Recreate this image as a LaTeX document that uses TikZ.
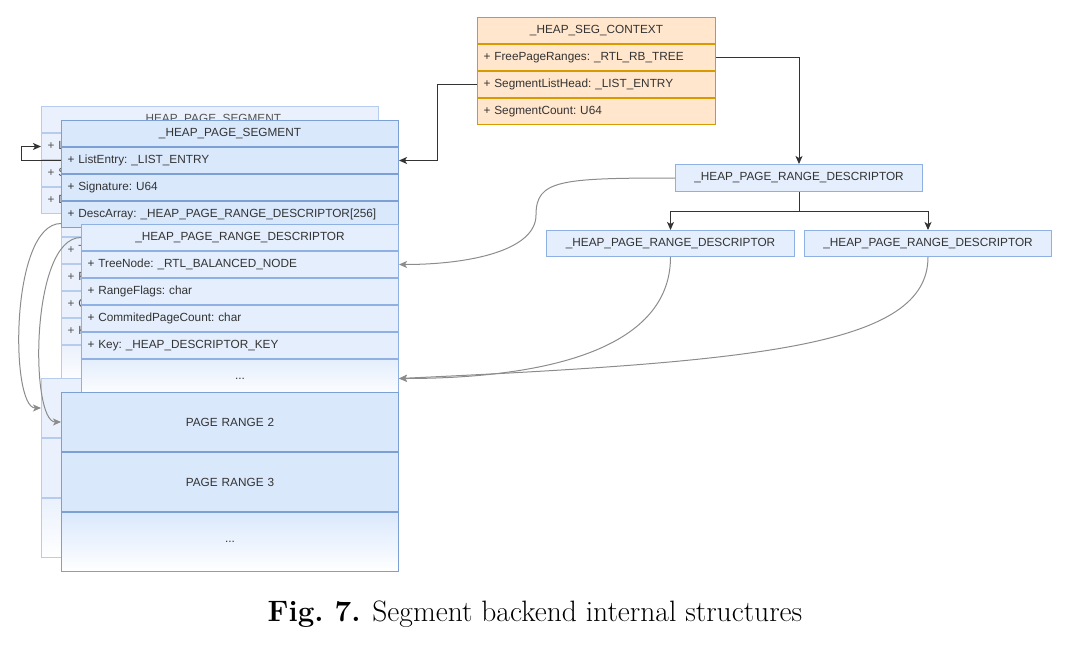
\documentclass[tikz,border=0pt]{standalone}
\usepackage{fontspec}
\usepackage{tikz}
\usepackage{xcolor}
\usetikzlibrary{arrows.meta}
\newfontfamily\diafont{Liberation Sans}
\definecolor{segfill}{HTML}{DAE8FC}
\definecolor{segline}{HTML}{7C9FD4}
\definecolor{descfill}{HTML}{E4EEFC}
\definecolor{descline}{HTML}{8FB0E2}
\definecolor{backfill}{HTML}{EAF1FC}
\definecolor{backline}{HTML}{B5CCEE}
\definecolor{ctxfill}{HTML}{FFE6CC}
\definecolor{ctxline}{HTML}{D79B00}
\definecolor{ink}{HTML}{333333}
\definecolor{curvegray}{HTML}{8C8C8C}

\begin{document}
\begin{tikzpicture}[x=1pt,y=-1pt,line width=1pt,
  every node/.style={inner xsep=6pt,inner ysep=0pt,anchor=north west,text=ink,font=\diafont\fontsize{11.8}{14}\selectfont\frenchspacing},
  seg/.style={draw=segline,fill=segfill,text width=325pt,minimum height=26pt,align=left},
  desc/.style={draw=descline,fill=descfill,text width=305pt,minimum height=26pt,align=left},
  bseg/.style={seg,draw=backline,fill=backfill,text=ink!85},
  bdesc/.style={desc,draw=backline,fill=backfill,text=ink!85},
  ctx/.style={draw=ctxline,fill=ctxfill,text width=226pt,minimum height=26pt,align=left},
  title/.style={align=center},
  dots/.style={minimum height=38pt,top color=#1,bottom color=white,align=center},
  pagebox/.style={draw=segline,fill=segfill,text width=325pt,minimum height=59pt,align=center},
  bpagebox/.style={pagebox,draw=backline,fill=backfill},
  rdesc/.style={draw=descline,fill=descfill,text width=235pt,minimum height=27pt,align=center},
  link/.style={draw=ink,-{Stealth[length=8pt,width=7pt,inset=2pt]}},
  curvelink/.style={draw=curvegray,-{Stealth[length=8pt,width=7pt,inset=2pt]}}]
\useasboundingbox (0,0) rectangle (1068,651);
% back copy of the segment
\node (bsa) at (41,106) [bseg,title] {\_HEAP\_PAGE\_SEGMENT};
\node (bsb) at (bsa.south west) [bseg] {+ ListEntry: \_LIST\_ENTRY};
\node (bsc) at (bsb.south west) [bseg] {+ Signature: U64};
\node (bsd) at (bsc.south west) [bseg] {+ DescArray: \_HEAP\_PAGE\_RANGE\_DESCRIPTOR[256]};
\node (bda) at (61,210) [bdesc,title] {};
\node (bdb) at (bda.south west) [bdesc] {+ TreeNode: \_RTL\_BALANCED\_NODE};
\node (bdc) at (bdb.south west) [bdesc] {+ RangeFlags: char};
\node (bdd) at (bdc.south west) [bdesc] {+ CommitedPageCount: char};
\node (bde) at (bdd.south west) [bdesc] {+ Key: \_HEAP\_DESCRIPTOR\_KEY};
\node (bdf) at (bde.south west) [bdesc,dots=backfill] {};
\node (bra) at (41,378) [bpagebox] {};
\node (brb) at (bra.south west) [bpagebox] {};
\node (brc) at (brb.south west) [bpagebox,top color=backfill,bottom color=white] {};
% front segment
\node (sga) at (61,120) [seg,title] {\_HEAP\_PAGE\_SEGMENT};
\node (sgb) at (sga.south west) [seg] {+ ListEntry: \_LIST\_ENTRY};
\node (sgc) at (sgb.south west) [seg] {+ Signature: U64};
\node (sgd) at (sgc.south west) [seg] {+ DescArray: \_HEAP\_PAGE\_RANGE\_DESCRIPTOR[256]};
\node (dsa) at (81,224) [desc,title] {\_HEAP\_PAGE\_RANGE\_DESCRIPTOR};
\node (dsb) at (dsa.south west) [desc] {+ TreeNode: \_RTL\_BALANCED\_NODE};
\node (dsc) at (dsb.south west) [desc] {+ RangeFlags: char};
\node (dsd) at (dsc.south west) [desc] {+ CommitedPageCount: char};
\node (dse) at (dsd.south west) [desc] {+ Key: \_HEAP\_DESCRIPTOR\_KEY};
\node (dsf) at (dse.south west) [desc,dots=descfill] {...};
\node (rga) at (61,392) [pagebox] {PAGE RANGE 2};
\node (rgb) at (rga.south west) [pagebox] {PAGE RANGE 3};
\node (rgc) at (rgb.south west) [pagebox,top color=segfill,bottom color=white] {...};
% context
\node (cxa) at (477,17) [ctx,title] {\_HEAP\_SEG\_CONTEXT};
\node (cxb) at (cxa.south west) [ctx] {+ FreePageRanges: \_RTL\_RB\_TREE};
\node (cxc) at (cxb.south west) [ctx] {+ SegmentListHead: \_LIST\_ENTRY};
\node (cxd) at (cxc.south west) [ctx] {+ SegmentCount: U64};
% range tree
\node (root) at (675,164) [rdesc] {\_HEAP\_PAGE\_RANGE\_DESCRIPTOR};
\node (lcd) at (546,230) [rdesc,text width=236pt,minimum height=26pt] {\_HEAP\_PAGE\_RANGE\_DESCRIPTOR};
\node (rcd) at (804,230) [rdesc,minimum height=26pt] {\_HEAP\_PAGE\_RANGE\_DESCRIPTOR};
\coordinate (mid) at (536,215);
\draw[link] (cxb.east) -| (root.north);
\draw[link] (cxc.west) -- ++(-40,0) |- (sgb.east);
\draw[link] (root.south) -- ++(0,19) -| (lcd.north);
\draw[link] (root.south) -- ++(0,19) -| (rcd.north);
\draw[link] (sgb.west) -- ++(-40,0) |- (bsb.west);
\draw[curvelink] (root.west) .. controls +(-115,0) and +(0,-35) .. (mid) .. controls +(0,35) and +(72,0) .. (dsb.east);
\draw[curvelink] (lcd.south) .. controls +(0,94) and +(142,0) .. (dsf.east);
\draw[curvelink] (rcd.south) .. controls +(0,89) and +(362,-17) .. (dsf.east);
\draw[curvelink] (bda.west) .. controls +(-51,0) and +(-31,0) .. (bra.west);
\draw[curvelink] (dsa.west) .. controls +(-51,0) and +(-31,0) .. (rga.west);
% caption
\node (cap) at (535,614) [anchor=center,text=black,font=\rmfamily\fontsize{29.5}{34}\selectfont] {\textbf{Fig.\ 7.} Segment backend internal structures};
\end{tikzpicture}
\end{document}
